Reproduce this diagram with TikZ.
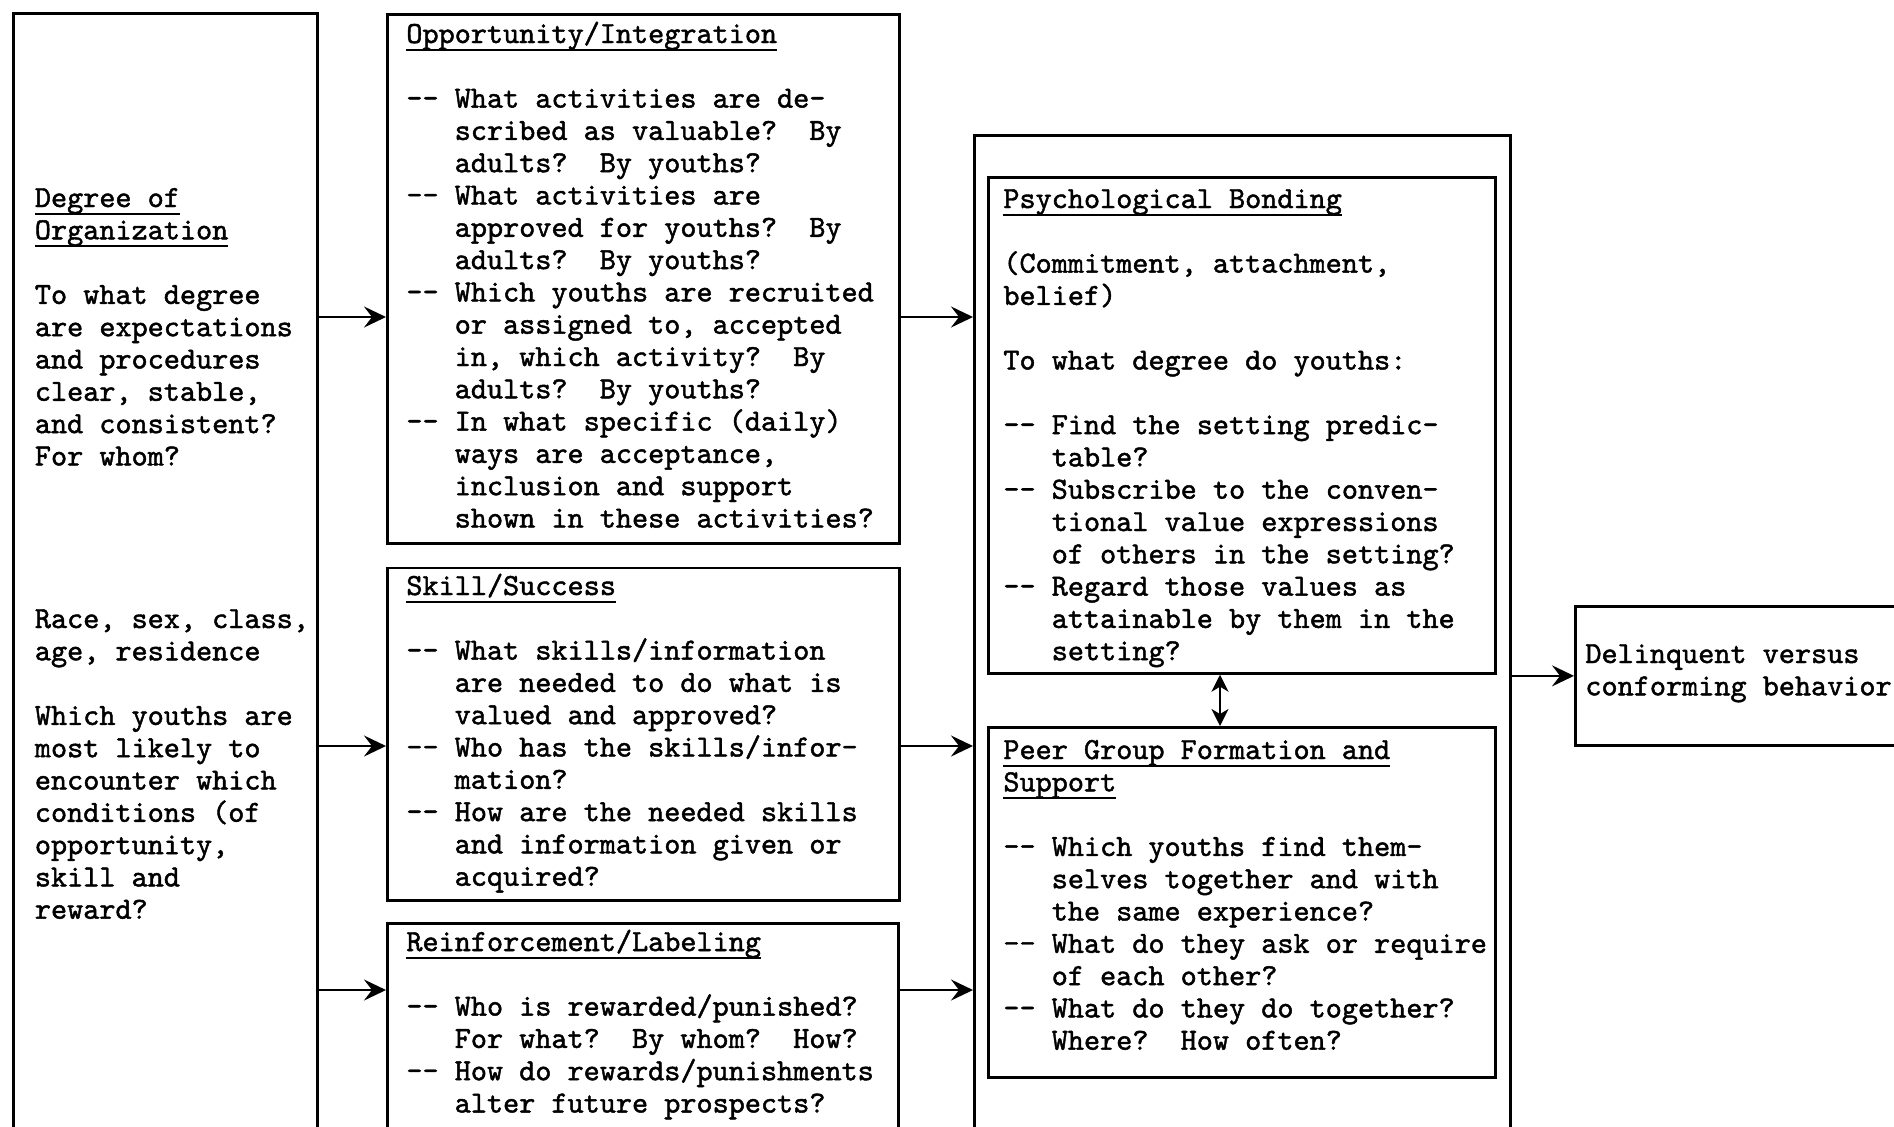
\documentclass[tikz,border=0pt]{standalone}
\usepackage{fontspec}
\newfontfamily\tw[FakeBold=1.5]{lmmono10-regular.otf}
\usetikzlibrary{arrows.meta}
\newcommand\blk[1]{\parbox[t]{330pt}{\tw\fontsize{15.35pt}{16.15pt}\selectfont\frenchspacing\raggedright #1}}
\newcommand\ul[1]{\leavevmode\setbox0=\hbox{#1}\rlap{\rule[-3.8pt]{\wd0}{1pt}}\box0}
\newcommand\dd{\mbox{-}\mbox{-}\ }
\newcommand\ii{\leavevmode\hphantom{xxx}}
\newcommand\bl{\mbox{}}
\begin{document}
\begin{tikzpicture}[x=0.5pt,y=-0.5pt,
  box/.style={draw, line width=1.35pt, inner sep=0pt, anchor=north west},
  txt/.style={anchor=base west, inner sep=0pt},
  arr/.style={line width=1.2pt, -{Stealth[length=11pt,width=10.5pt,inset=4pt]}},
  dbl/.style={line width=0.9pt, {Stealth[length=8.5pt,width=8.5pt,inset=2.5pt]}-{Stealth[length=8.5pt,width=8.5pt,inset=2.5pt]}}]
\useasboundingbox (0,0) rectangle (1894,1126);
\clip (0,0) rectangle (1894,1126);
% boxes
\node[box, minimum width=152pt, minimum height=564pt] (left) at (12,12) {};
\node[box, minimum width=256pt, minimum height=264.5pt] (opp) at (386,13) {};
\node[box, minimum width=256pt, minimum height=166.25pt] (skill) at (386,566.5) {};
\node[box, minimum width=255.5pt, minimum height=109pt] (reinf) at (386,922) {};
\node[box, minimum width=268pt, minimum height=503pt] (outer) at (973,134) {};
\node[box, minimum width=253.5pt, minimum height=248pt] (pb) at (987,176) {};
\node[box, minimum width=253.5pt, minimum height=175pt] (peer) at (987,726) {};
\node[box, minimum width=168pt, minimum height=69.5pt] (del) at (1574,605) {};
% texts
\node[txt] (t1) at (34.5,207) {\blk{\ul{Degree of}\\\ul{Organization}\\\bl\\To what degree\\are expectations\\and procedures\\clear, stable,\\and consistent?\\For whom?}};
\node[txt] (t2) at (34.5,628) {\blk{Race, sex, class,\\age, residence\\\bl\\Which youths are\\most likely to\\encounter which\\conditions (of\\opportunity,\\skill and\\reward?}};
\node[txt] (t3) at (406,43) {\blk{\ul{Opportunity/Integration}\\\bl\\
\dd What activities are de-\\
\ii scribed as valuable?~~By\\
\ii adults?~~By youths?\\
\dd What activities are\\
\ii approved for youths?~~By\\
\ii adults?~~By youths?\\
\dd Which youths are recruited\\
\ii or assigned to, accepted\\
\ii in, which activity?~~By\\
\ii adults?~~By youths?\\
\dd In what specific (daily)\\
\ii ways are acceptance,\\
\ii inclusion and support\\
\ii shown in these activities?}};
\node[txt] (t4) at (406,595) {\blk{\ul{Skill/Success}\\\bl\\
\dd What skills/information\\
\ii are needed to do what is\\
\ii valued and approved?\\
\dd Who has the skills/infor-\\
\ii mation?\\
\dd How are the needed skills\\
\ii and information given or\\
\ii acquired?}};
\node[txt] (t5) at (406,951) {\blk{\ul{Reinforcement/Labeling}\\\bl\\
\dd Who is rewarded/punished?\\
\ii For what?~~By whom?~~How?\\
\dd How do rewards/punishments\\
\ii alter future prospects?}};
\node[txt] (t6) at (1003,208) {\blk{\ul{Psychological Bonding}\\\bl\\
(Commitment, attachment,\\
belief)\\\bl\\
To what degree do youths:\\\bl\\
\dd Find the setting predic-\\
\ii table?\\
\dd Subscribe to the conven-\\
\ii tional value expressions\\
\ii of others in the setting?\\
\dd Regard those values as\\
\ii attainable by them in the\\
\ii setting?}};
\node[txt] (t7) at (1003,759) {\blk{\ul{Peer Group Formation and}\\
\ul{Support}\\\bl\\
\dd Which youths find them-\\
\ii selves together and with\\
\ii the same experience?\\
\dd What do they ask or require\\
\ii of each other?\\
\dd What do they do together?\\
\ii Where?~~How often?}};
\node[txt] (t8) at (1585,663) {\blk{Delinquent versus\\conforming behavior}};
% connectors
\coordinate (ya) at (0,317);
\coordinate (yb) at (0,746);
\coordinate (yc) at (0,990);
\coordinate (xd) at (1220,0);
\draw[arr] (left.east |- ya) -- (opp.west |- ya);
\draw[arr] (left.east |- yb) -- (skill.west |- yb);
\draw[arr] (left.east |- yc) -- (reinf.west |- yc);
\draw[arr] (opp.east |- ya) -- (outer.west |- ya);
\draw[arr] (skill.east |- yb) -- (outer.west |- yb);
\draw[arr] (reinf.east |- yc) -- (outer.west |- yc);
\draw[arr] (outer.east |- del.west) -- (del.west);
\draw[dbl] (pb.south -| xd) -- (peer.north -| xd);
\end{tikzpicture}
\end{document}
